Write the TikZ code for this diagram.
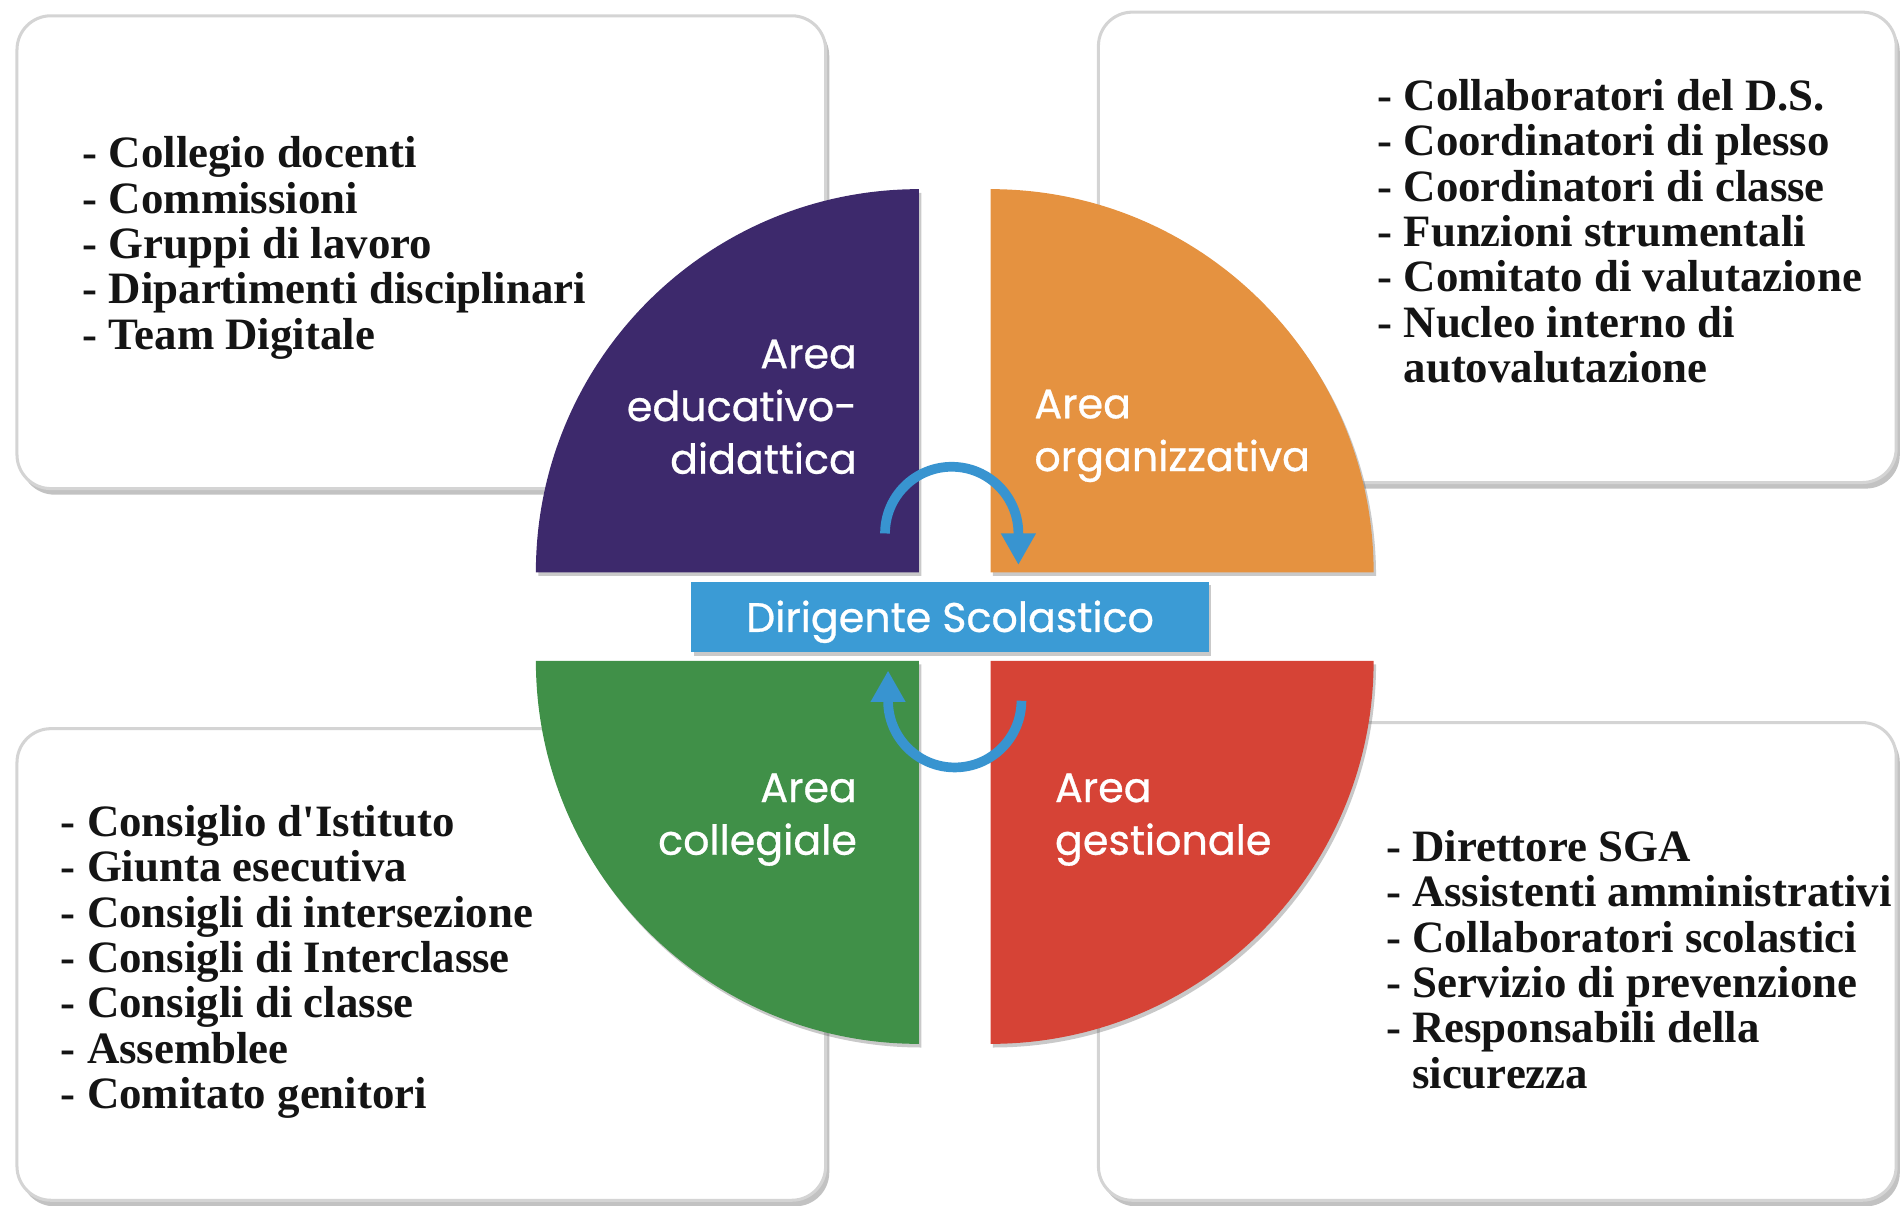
\documentclass[tikz,border=0pt]{standalone}
\usepackage{fontspec}
\setmainfont{Liberation Serif}
\newfontfamily\areafont{Poppins}[FakeBold=0.7]
\usetikzlibrary{shadows,arrows.meta}
\definecolor{purp}{RGB}{61,41,108}
\definecolor{orng}{RGB}{229,146,64}
\definecolor{grn}{RGB}{64,144,72}
\definecolor{redq}{RGB}{214,67,54}
\definecolor{dsblue}{RGB}{59,155,213}
\definecolor{arrblue}{RGB}{56,148,208}
\begin{document}
\begin{tikzpicture}[x=1pt,y=-1pt,
  infobox/.style={draw=black!17, line width=2.5pt, fill=white, rounded corners=28pt,
    drop shadow={shadow xshift=3pt, shadow yshift=-5pt, opacity=0.4, fill=black!60}},
  quarter/.style={drop shadow={shadow xshift=2pt, shadow yshift=-3pt, opacity=0.3, fill=black!70}},
  listtext/.style={anchor=base west, inner sep=0pt, text=black!92,
    font=\fontsize{37}{37.4}\selectfont\bfseries},
  arealabel/.style={inner sep=0pt, text=white, font=\areafont\fontsize{34}{43.5}\selectfont},
  dsbox/.style={fill=dsblue, text=white, minimum width=427pt, minimum height=58pt,
    inner sep=0pt, text height=25pt, text depth=0pt,
    font=\areafont\fontsize{34}{40}\selectfont,
    drop shadow={shadow xshift=2pt, shadow yshift=-3pt, opacity=0.3, fill=black!70}},
  cyc/.style={draw=arrblue, line width=8pt, -{Triangle[width=27pt,length=26pt]}}
]
\useasboundingbox (0,0) rectangle (1568,994);
% info boxes
\path[infobox] (14,13) rectangle (681,403);
\path[infobox] (906,10) rectangle (1564,398);
\path[infobox] (14,601) rectangle (681,990);
\path[infobox] (906,596) rectangle (1564,990);
% lists
\node[listtext] (listTL) at (68,138.5) {\begin{tabular}[t]{@{}l@{}}
- Collegio docenti\\- Commissioni\\- Gruppi di lavoro\\- Dipartimenti disciplinari\\- Team Digitale\end{tabular}};
\node[listtext] (listTR) at (1136,91) {\begin{tabular}[t]{@{}l@{}}
- Collaboratori del D.S.\\- Coordinatori di plesso\\- Coordinatori di classe\\- Funzioni strumentali\\- Comitato di valutazione\\- Nucleo interno di\\\phantom{- }autovalutazione\end{tabular}};
\node[listtext] (listBL) at (50,690) {\begin{tabular}[t]{@{}l@{}}
- Consiglio d\textquotesingle Istituto\\- Giunta esecutiva\\- Consigli di intersezione\\- Consigli di Interclasse\\- Consigli di classe\\- Assemblee\\- Comitato genitori\end{tabular}};
\node[listtext] (listBR) at (1143,710.5) {\begin{tabular}[t]{@{}l@{}}
- Direttore SGA\\- Assistenti amministrativi\\- Collaboratori scolastici\\- Servizio di prevenzione\\- Responsabili della\\\phantom{- }sicurezza\end{tabular}};
% quarters
\fill[purp, quarter] (758,472) -- (442,472) arc[start angle=180, end angle=270, radius=316] -- cycle;
\fill[orng, quarter] (817,472) -- (817,156) arc[start angle=270, end angle=360, radius=316] -- cycle;
\fill[grn, quarter] (758,545) -- (758,861) arc[start angle=90, end angle=180, radius=316] -- cycle;
\fill[redq, quarter] (817,545) -- (1133,545) arc[start angle=0, end angle=90, radius=316] -- cycle;
% area labels
\node[arealabel, anchor=base east] (lblEdu) at (707,303.7) {\begin{tabular}[t]{@{}r@{}}Area\\educativo-\\didattica\end{tabular}};
\node[arealabel, anchor=base west] (lblOrg) at (853,345) {\begin{tabular}[t]{@{}l@{}}Area\\organizzativa\end{tabular}};
\node[arealabel, anchor=base east] (lblCol) at (707,661.5) {\begin{tabular}[t]{@{}r@{}}Area\\collegiale\end{tabular}};
\node[arealabel, anchor=base west] (lblGes) at (870,661.5) {\begin{tabular}[t]{@{}l@{}}Area\\gestionale\end{tabular}};
% central box
\node[dsbox] (ds) at (783.6,508.7) {Dirigente Scolastico};
% cycle arrows
\coordinate (topStart) at (730,440);
\coordinate (topEnd) at (840,466);
\coordinate (botStart) at (842.5,578);
\coordinate (botEnd) at (732.5,553);
\draw[cyc] (topStart) arc[start angle=180, end angle=360, radius=55] -- (topEnd);
\draw[cyc] (botStart) arc[start angle=0, end angle=180, radius=55] -- (botEnd);
\end{tikzpicture}
\end{document}
